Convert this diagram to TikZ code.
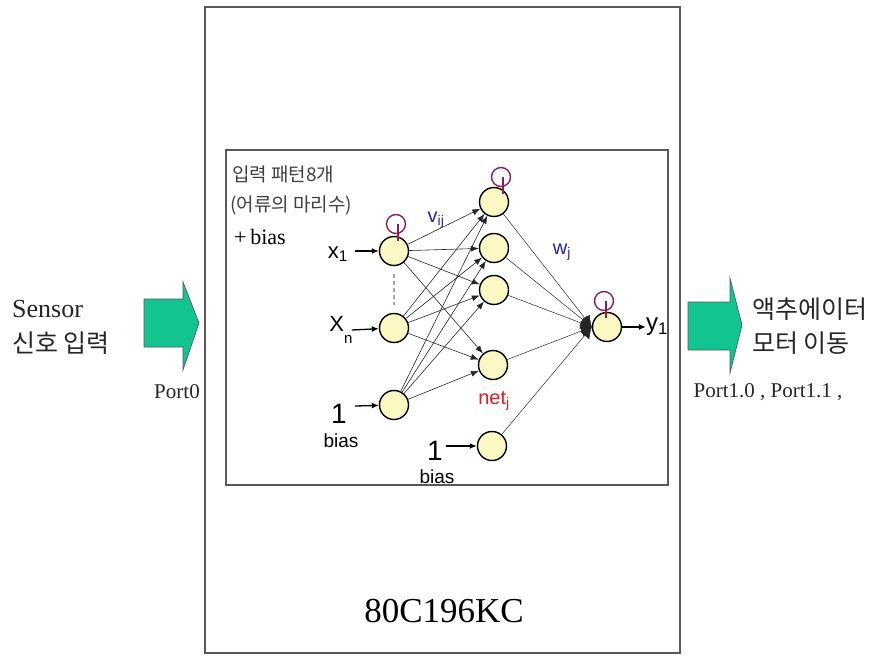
\documentclass[tikz,border=0pt]{standalone}
\usepackage{fontspec}
\setmainfont{Liberation Serif}
\setsansfont{Liberation Sans}
\newfontfamily\kor{Noto Sans CJK KR}
\usepackage{tikz}
\usetikzlibrary{arrows.meta, positioning, calc}
\definecolor{portgreen}{HTML}{12C48F}
\definecolor{cellfill}{HTML}{FBF8C4}
\definecolor{thcol}{HTML}{8B1E55}
\definecolor{wblue}{HTML}{2323A8}
\definecolor{netred}{HTML}{E31B23}
\tikzset{
  % neurons
  neuron/.style={
    circle, draw=black, line width=1.4pt, fill=cellfill,
    minimum size=29pt, inner sep=0pt,
  },
  % threshold marks above neurons
  thresh/.style={circle, draw=thcol, line width=1.4pt, minimum size=19pt, inner sep=0pt},
  thtick/.style={draw=thcol, line width=1.2pt},
  % connectors
  conn/.style={-{Latex[length=8pt,width=6pt]}, line width=0.6pt, black!85},
  sumconn/.style={-{Latex[length=11pt,width=12pt]}, line width=0.5pt, black!85},
  feed/.style={-{Latex[length=7pt,width=6pt]}, line width=1.3pt},
  % frames and block arrows
  frame/.style={draw=black!65, line width=1.6pt},
  blockarr/.style={fill=portgreen, draw=black!65, line width=0.7pt},
  % texts
  kortext/.style={font=\kor\fontsize{25}{28}\selectfont, text=black!85, inner sep=0pt, anchor=west},
  kornote/.style={font=\kor\fontsize{19}{22}\selectfont, text=black!75, inner sep=0pt, anchor=west},
  porttext/.style={font=\fontsize{21}{24}\selectfont, text=black!85, inner sep=0pt},
  sanslab/.style={font=\sffamily\fontsize{22}{24}\selectfont, inner sep=0pt},
  weightlab/.style={font=\sffamily\fontsize{20}{22}\selectfont, text=wblue, inner sep=0pt},
}
\begin{document}
\begin{tikzpicture}[x=1pt, y=-1pt]
  \useasboundingbox (0,0) rectangle (887,656);

  % Board and network frames
  \draw[frame] (205,7) rectangle (680,653);
  \draw[frame, line width=1.3pt] (226,150) rectangle (668,485);
  \node[font=\fontsize{35}{40}\selectfont, inner sep=0pt] (chip) at (444,611) {80C196KC};

  % Sensor side
  \node[kortext, font=\fontsize{26}{30}\selectfont] (sensor) at (12,309) {Sensor};
  \node[kortext] (sigin) at (12,343) {신호 입력};
  \draw[blockarr] (144,299) -- (183,299) -- (183,282) -- (199,323) -- (183,370)
    -- (183,347) -- (144,347) -- cycle;
  \node[porttext] (port0) at (177,392) {Port0};

  % Actuator side
  \draw[blockarr] (688,302) -- (730,302) -- (730,278) -- (742,325) -- (730,373)
    -- (730,350) -- (688,350) -- cycle;
  \node[kortext] (act) at (752,309) {액추에이터};
  \node[kortext] (motor) at (752,343) {모터 이동};
  \node[porttext] (port1) at (768,392) {Port1.0 , Port1.1 ,};

  % Pattern note
  \node[kornote] (pat) at (232,174) {입력 패턴8개};
  \node[kornote] (fish) at (230,206) {(어류의 마리수)};
  \node[font=\fontsize{22}{24}\selectfont, inner sep=0pt, anchor=west] (pbias) at (234,237) {+\,bias};

  % Input layer
  \node[neuron] (in1) at (394,251) {};
  \node[neuron] (in2) at (394,328) {};
  \node[neuron] (in3) at (394,405) {};

  % Hidden layer
  \node[neuron] (hid1) at (494,202) {};
  \node[neuron] (hid2) at (494,248) {};
  \node[neuron] (hid3) at (494,290) {};
  \node[neuron] (hid4) at (493,365) {};
  \node[neuron] (hid5) at (492,446) {};

  % Output
  \node[neuron] (out) at (607,327) {};

  % Thresholds
  \node[thresh] (th1) at (396,224) {};
  \node[thresh] (th2) at (501,177) {};
  \node[thresh] (th3) at (604,301) {};
  \foreach \t in {th1,th2,th3}
    \draw[thtick] ([xshift=2pt]\t.center) -- ([xshift=2pt,yshift=-7pt]\t.south);

  % Input labels and feeds
  \node[sanslab] (x1) at (338,254) {x\textsubscript{1}};
  \node[sanslab] (xn) at (341,330) {X\raisebox{-12pt}{\fontsize{15}{15}\selectfont n}};
  \node[sanslab, font=\sffamily\fontsize{28}{30}\selectfont] (one1) at (339,414) {1};
  \node[sanslab, font=\sffamily\fontsize{19}{21}\selectfont] (bias1) at (341,441) {bias};
  \node[sanslab, font=\sffamily\fontsize{28}{30}\selectfont] (one2) at (435,451) {1};
  \node[sanslab, font=\sffamily\fontsize{19}{21}\selectfont] (bias2) at (437,477) {bias};
  \coordinate (f1) at (355,251);
  \coordinate (f2) at (352,330);
  \coordinate (f3) at (355,406);
  \coordinate (f4) at (446,446);
  \draw[feed] (f1) -- (in1);
  \draw[feed] (f2) -- (in2);
  \draw[feed] (f3) -- (in3);
  \draw[feed] (f4) -- (hid5);
  \draw[black!35, line width=1.8pt, dash pattern=on 4pt off 3pt] ([yshift=-8pt]in1.south) -- ([yshift=8pt]in2.north);

  % Input -> hidden
  \foreach \i in {1,2,3}
    \foreach \j in {1,2,3,4}
      \draw[conn] (in\i) -- (hid\j);

  % Hidden -> output
  \foreach \j in {1,...,5}
    \draw[sumconn] (hid\j) -- (out.west);

  % Output feed
  \node[sanslab, font=\sffamily\fontsize{24}{26}\selectfont] (y1) at (657,327) {y\textsubscript{1}};
  \draw[feed] (out) -- (y1);

  % Weight and sum labels
  \node[weightlab] (vij) at (436,220) {v\textsubscript{ij}};
  \node[weightlab] (wj) at (562,252) {w\textsubscript{j}};
  \node[weightlab, text=netred] (netj) at (494,401) {net\textsubscript{j}};

\end{tikzpicture}
\end{document}
